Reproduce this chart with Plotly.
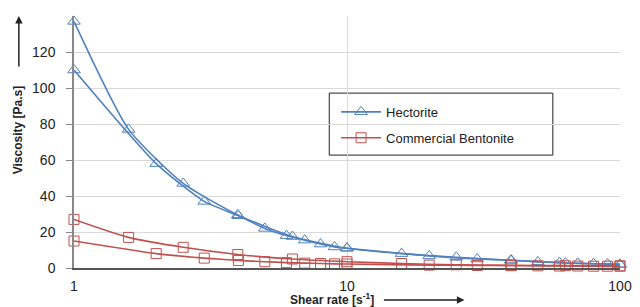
import plotly.graph_objects as go

# Shear rates
x_log = [1, 1.585, 2.512, 3.981, 6.310, 10, 15.85, 25.12, 39.81, 63.10, 100]
x_lin = [1, 2, 3, 4, 5, 6, 7, 8, 9, 10, 20, 30, 40, 50, 60, 70, 80, 90, 100]

# Viscosity values
hect_a = [137, 77, 47, 29.5, 17.5, 11, 8, 6, 4.3, 2.8, 2]
hect_b = [110, 58, 37, 29, 22, 18, 15.5, 13.3, 11.7, 11, 6.7, 5, 4.3, 3.4, 3, 2.6, 2.4, 2.2, 2]
bent_a = [27, 17, 11.5, 7.5, 5, 3.5, 2.5, 1.8, 1.5, 1.3, 1.2]
bent_b = [15, 8, 5.5, 4.2, 3.5, 3, 2.7, 2.5, 2.3, 2.2, 1.6, 1.4, 1.3, 1.2, 1.1, 1.1, 1.0, 1.0, 1.0]

BLUE = "#4F81BD"
RED = "#C0504D"

fig = go.Figure()

def add(x, y, name, color, symbol, size, show):
    fig.add_trace(go.Scatter(
        x=x, y=y, name=name, legendgroup=name, showlegend=show,
        mode="lines+markers", line=dict(color=color, width=1.6, shape="spline", smoothing=0.6),
        marker=dict(symbol=symbol, size=size, color=color,
                    line=dict(color=color, width=1)),
        cliponaxis=False,
    ))

add(x_log, hect_a, "Hectorite", BLUE, "triangle-up-open", 11, True)
add(x_lin, hect_b, "Hectorite", BLUE, "triangle-up-open", 11, False)
add(x_log, bent_a, "Commercial Bentonite", RED, "square-open", 10, True)
add(x_lin, bent_b, "Commercial Bentonite", RED, "square-open", 10, False)

FAM = "Liberation Sans, Arial, sans-serif"
font = dict(family=FAM, size=14, color="#222")

# page body has an 8px margin: compensate
fig.update_layout(
    width=632, height=299,
    margin=dict(l=66, r=12, t=8, b=39),
    paper_bgcolor="white", plot_bgcolor="white",
    font=font,
    showlegend=True,
    legend=dict(x=0.480, y=0.679, xanchor="left", yanchor="top",
                borderwidth=0, bgcolor="rgba(0,0,0,0)",
                font=dict(family=FAM, size=13, color="#222"),
                itemwidth=40, tracegroupgap=6),
    shapes=[dict(type="rect", xref="paper", yref="paper",
                 x0=0.4675, x1=0.877, y0=0.448, y1=0.694,
                 line=dict(color="#222", width=1), fillcolor="white", layer="between")],
    xaxis=dict(type="log", range=[0, 2], tickvals=[1, 10, 100], ticktext=["1", "10", "100"],
               showgrid=True, gridcolor="#d9d9d9", gridwidth=1,
               showline=True, linecolor="#555", linewidth=1.5,
               ticks="", zeroline=False, ticklabelstandoff=4),
    yaxis=dict(range=[0, 140], tickvals=[0, 20, 40, 60, 80, 100, 120],
               showgrid=True, gridcolor="#d9d9d9", gridwidth=1,
               showline=True, linecolor="#888", linewidth=1.5,
               ticks="outside", ticklen=6, tickcolor="#888", zeroline=False,
               ticklabelstandoff=8),
    annotations=[
        dict(text="<b>Viscosity [Pa.s]</b>", textangle=-90, xref="paper", yref="paper",
             x=-0.101, y=0.55, xanchor="center", yanchor="middle", showarrow=False,
             font=dict(family=FAM, size=12, color="#222")),
        dict(xref="paper", yref="paper", x=-0.101, y=1.0, ax=0, ay=52,
             axref="pixel", ayref="pixel", text="", showarrow=True,
             arrowhead=2, arrowsize=1, arrowwidth=1.5, arrowcolor="#222"),
        dict(text="<b>Shear rate [s<sup>-1</sup>]</b>", xref="paper", yref="paper",
             x=0.473, y=-0.123, xanchor="center", yanchor="middle", showarrow=False,
             font=dict(family=FAM, size=12, color="#222")),
        dict(xref="paper", yref="paper", x=0.715, y=-0.127, ax=-82, ay=0,
             axref="pixel", ayref="pixel", text="", showarrow=True,
             arrowhead=2, arrowsize=1, arrowwidth=1.5, arrowcolor="#222"),
    ],
)

fig.write_html("out.html")
